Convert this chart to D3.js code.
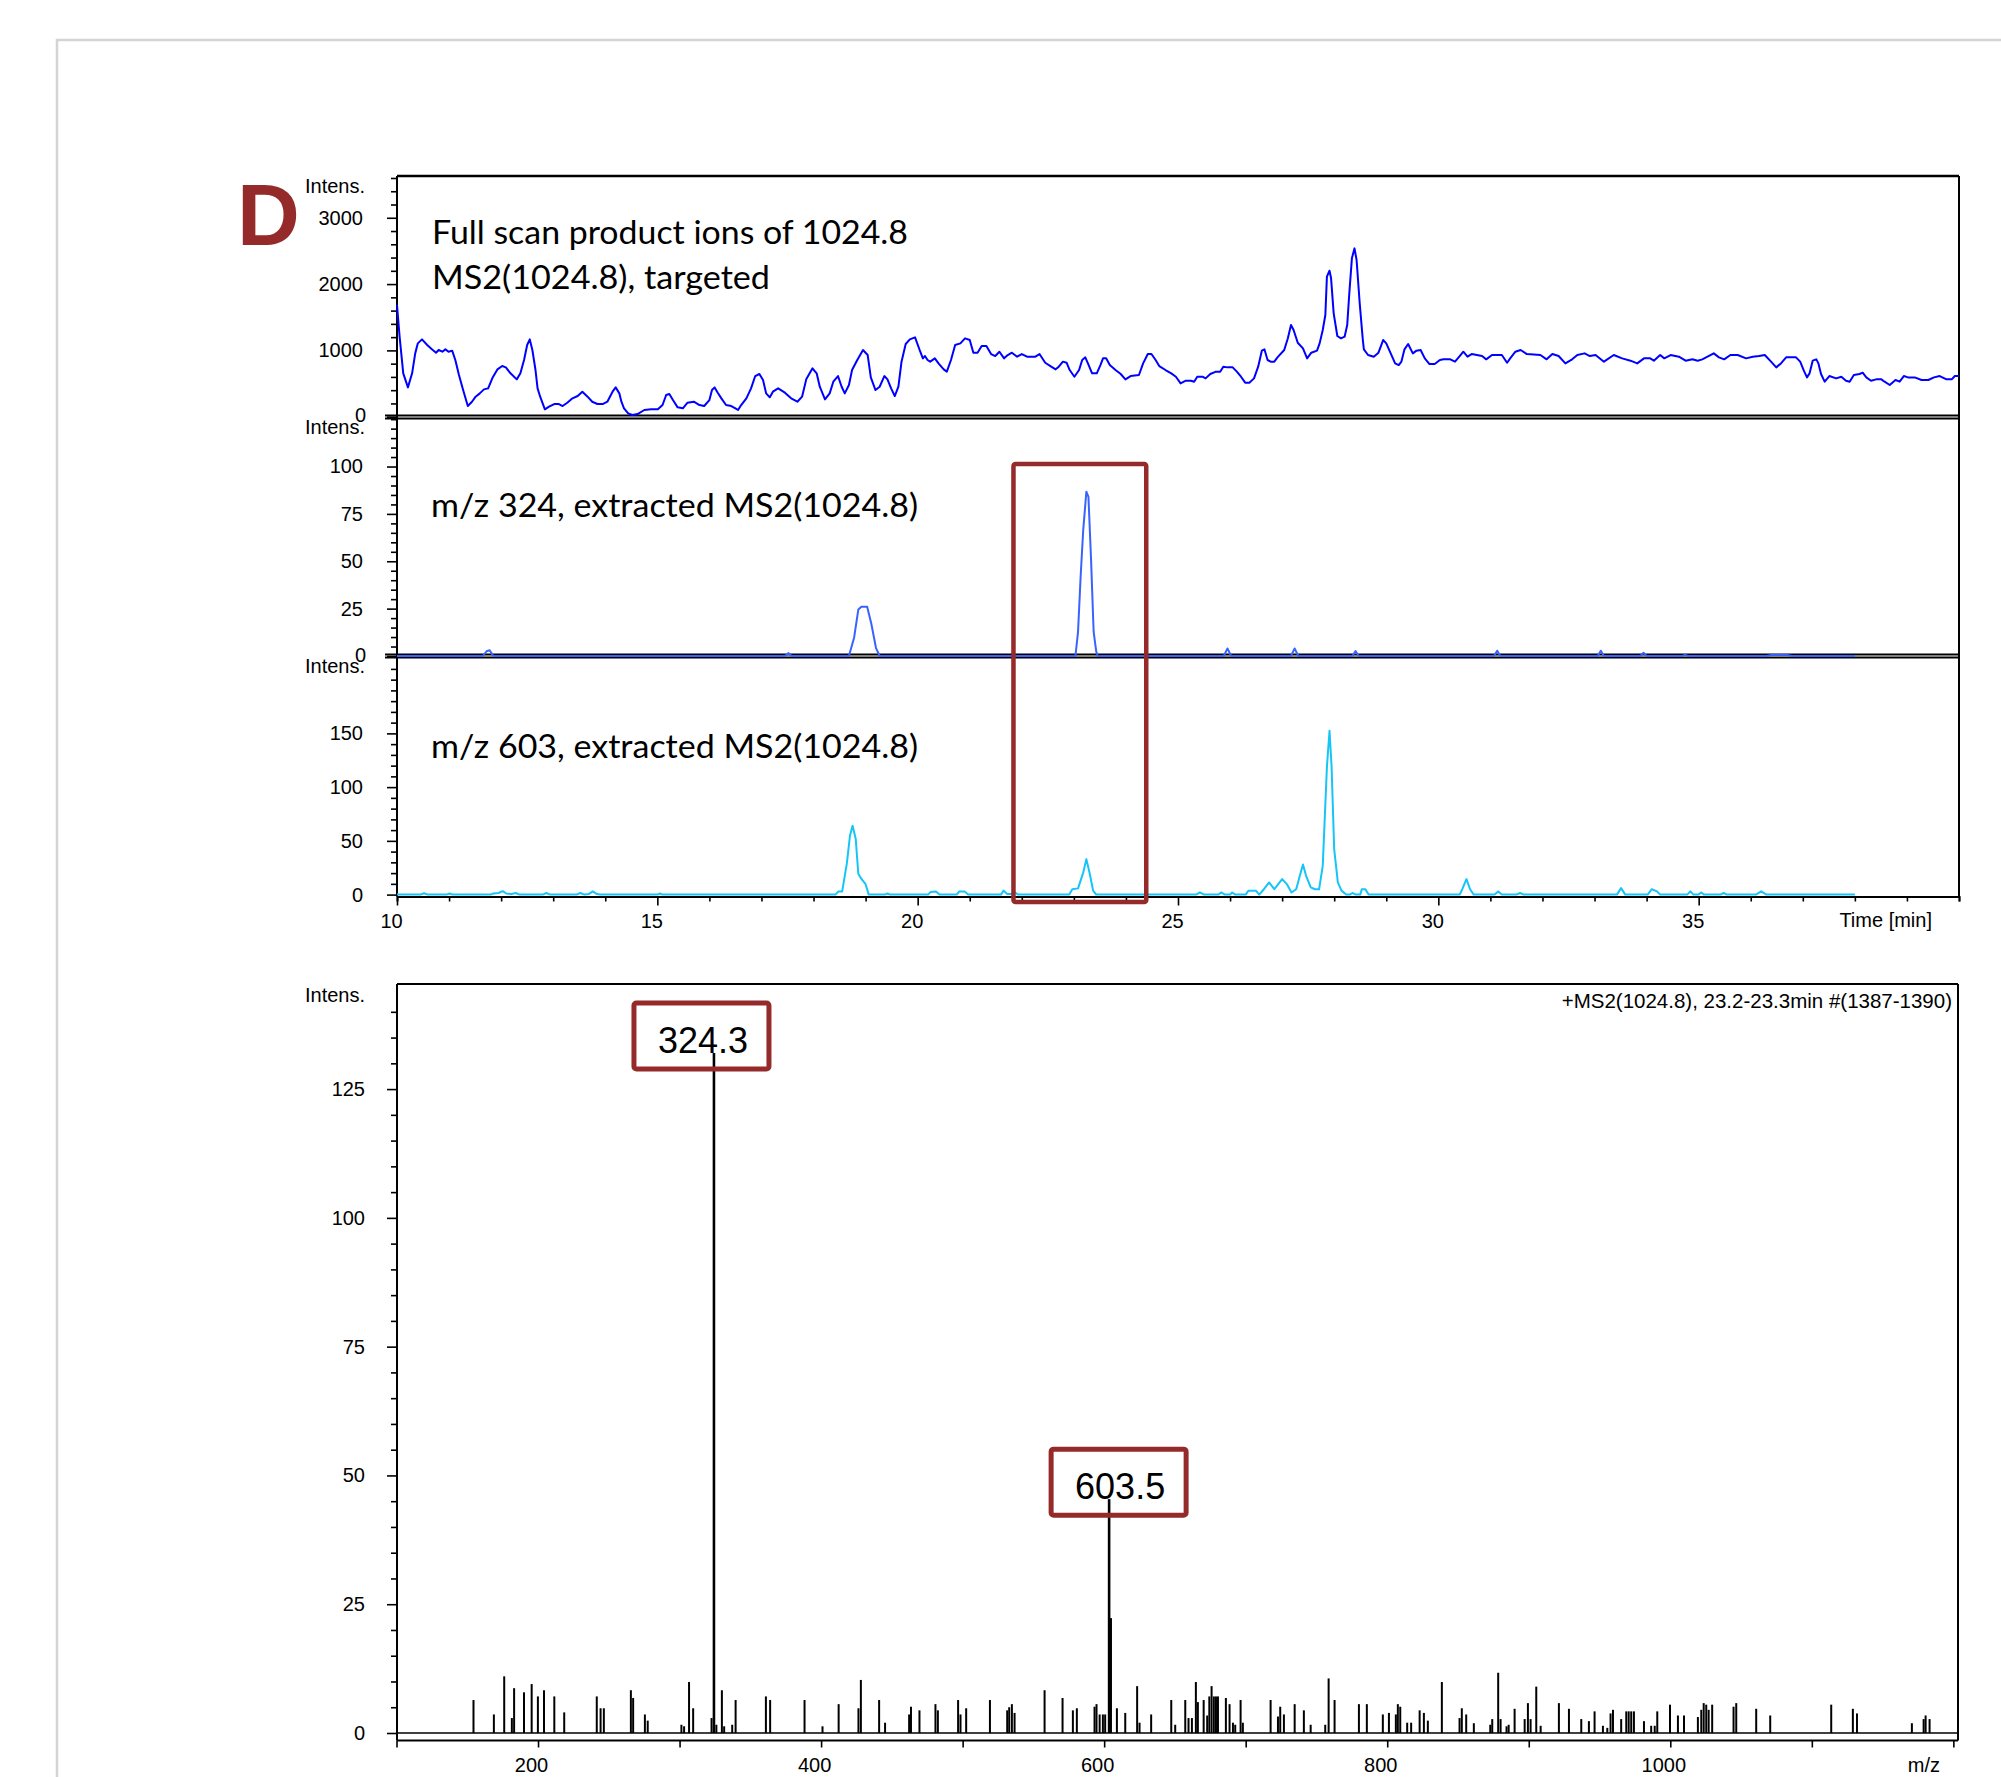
<!DOCTYPE html>
<html><head><meta charset="utf-8">
<script src="https://cdn.jsdelivr.net/npm/d3@7"></script>
<style>body{margin:0;background:#fff}svg{display:block}</style>
</head><body>
<svg id="c" width="2001" height="1777"></svg>
<script>
// ---------------- DATA ----------------
// Panel 1: full scan product ions of 1024.8 (time [min], intensity)
const fullScan = [[10.0,1684],[10.05,1207],[10.12,654],[10.21,442],[10.29,654],[10.35,955],[10.4,1106],[10.48,1166],[10.58,1081],[10.67,1016],[10.75,965],[10.8,1006],[10.87,980],[10.93,1016],[10.99,980],[11.06,996],[11.12,855],[11.19,629],[11.27,402],[11.36,161],[11.44,226],[11.51,302],[11.59,352],[11.67,412],[11.75,427],[11.83,578],[11.93,714],[12.02,764],[12.09,744],[12.18,654],[12.3,563],[12.37,654],[12.44,855],[12.5,1081],[12.55,1166],[12.6,1006],[12.66,704],[12.7,427],[12.75,302],[12.84,111],[12.92,151],[13.02,191],[13.11,191],[13.18,161],[13.27,211],[13.37,277],[13.47,312],[13.56,377],[13.66,302],[13.75,226],[13.85,191],[13.95,191],[14.04,226],[14.14,377],[14.2,442],[14.27,352],[14.31,226],[14.36,126],[14.44,50],[14.52,25],[14.62,40],[14.75,101],[14.88,111],[15.01,111],[15.1,176],[15.17,327],[15.23,342],[15.3,251],[15.39,141],[15.49,126],[15.58,211],[15.7,226],[15.81,176],[15.9,161],[16.0,251],[16.05,402],[16.1,442],[16.16,362],[16.23,277],[16.32,176],[16.42,161],[16.5,126],[16.55,101],[16.61,176],[16.71,277],[16.8,427],[16.88,613],[16.96,644],[17.03,553],[17.09,352],[17.16,292],[17.22,377],[17.32,427],[17.45,362],[17.57,277],[17.69,226],[17.78,302],[17.86,563],[17.98,729],[18.06,654],[18.12,452],[18.22,261],[18.31,352],[18.38,528],[18.47,613],[18.54,452],[18.6,352],[18.68,478],[18.74,704],[18.84,855],[18.95,1006],[19.04,930],[19.1,593],[19.19,402],[19.27,452],[19.36,613],[19.42,563],[19.49,427],[19.56,312],[19.63,452],[19.69,830],[19.77,1096],[19.85,1166],[19.95,1197],[20.05,980],[20.1,880],[20.14,915],[20.19,855],[20.24,830],[20.33,880],[20.4,804],[20.5,714],[20.56,679],[20.64,855],[20.72,1081],[20.82,1106],[20.91,1182],[21.0,1156],[21.07,965],[21.15,965],[21.23,1066],[21.32,1066],[21.41,945],[21.49,915],[21.57,980],[21.66,880],[21.73,930],[21.81,965],[21.91,905],[22.0,945],[22.1,905],[22.26,905],[22.34,945],[22.45,814],[22.55,764],[22.65,714],[22.71,754],[22.79,830],[22.86,814],[22.92,704],[23.01,603],[23.1,704],[23.16,855],[23.22,895],[23.27,804],[23.35,654],[23.44,654],[23.51,779],[23.56,880],[23.62,880],[23.69,779],[23.8,704],[23.9,644],[23.99,563],[24.09,613],[24.25,629],[24.33,804],[24.42,945],[24.49,945],[24.57,855],[24.64,764],[24.76,704],[24.87,654],[24.96,603],[25.05,503],[25.15,543],[25.25,543],[25.31,528],[25.37,603],[25.47,603],[25.53,578],[25.62,644],[25.73,679],[25.81,679],[25.87,754],[25.95,744],[26.05,744],[26.13,679],[26.21,603],[26.29,513],[26.37,513],[26.46,578],[26.54,754],[26.61,996],[26.66,1016],[26.72,855],[26.78,830],[26.85,830],[26.91,895],[27.04,1006],[27.11,1182],[27.17,1383],[27.22,1307],[27.3,1116],[27.4,1031],[27.48,880],[27.56,965],[27.67,996],[27.72,1106],[27.78,1307],[27.83,1534],[27.86,2112],[27.91,2202],[27.94,2087],[27.99,1559],[28.06,1217],[28.13,1182],[28.2,1207],[28.25,1383],[28.29,1860],[28.34,2388],[28.39,2539],[28.43,2363],[28.49,1710],[28.55,1156],[28.57,1016],[28.65,930],[28.76,905],[28.85,965],[28.94,1156],[29.0,1106],[29.1,930],[29.17,804],[29.24,779],[29.29,830],[29.35,1016],[29.42,1096],[29.51,955],[29.58,996],[29.66,1006],[29.74,880],[29.83,794],[29.93,794],[30.03,855],[30.1,865],[30.23,865],[30.32,830],[30.41,915],[30.48,980],[30.56,905],[30.64,945],[30.74,930],[30.84,915],[30.92,865],[31.03,930],[31.22,930],[31.32,814],[31.38,880],[31.48,980],[31.58,1006],[31.7,945],[31.96,930],[32.08,865],[32.19,945],[32.31,915],[32.44,804],[32.57,865],[32.67,930],[32.81,955],[32.91,915],[33.02,930],[33.18,830],[33.37,930],[33.53,880],[33.69,845],[33.82,804],[33.95,880],[34.07,880],[34.14,845],[34.26,930],[34.34,880],[34.46,930],[34.62,905],[34.75,845],[34.88,865],[34.98,845],[35.07,865],[35.17,905],[35.29,955],[35.39,895],[35.49,865],[35.61,930],[35.75,930],[35.91,880],[36.04,905],[36.16,915],[36.27,930],[36.39,830],[36.49,744],[36.58,804],[36.68,895],[36.87,895],[36.95,830],[37.02,694],[37.08,593],[37.13,654],[37.19,845],[37.26,865],[37.3,804],[37.35,644],[37.42,528],[37.51,613],[37.64,578],[37.74,603],[37.83,543],[37.9,528],[37.98,628],[38.09,644],[38.15,664],[38.22,593],[38.31,543],[38.41,563],[38.51,563],[38.57,528],[38.67,478],[38.78,553],[38.86,528],[38.94,613],[39.02,593],[39.15,593],[39.28,553],[39.41,553],[39.52,593],[39.63,613],[39.76,563],[39.86,563],[39.92,613],[40.0,613]];

// Panel 2: m/z 324 extracted ion chromatogram
const eic324 = [[10,0],[11.65,0],[11.72,2.5],[11.78,3],[11.85,0],[17.45,0],[17.52,1.5],[17.58,0],[18.68,0],[18.78,9.8],[18.86,24.5],[18.92,26],[19.03,26],[19.11,17],[19.2,4.2],[19.27,0],[23.03,0],[23.08,12.7],[23.13,42],[23.18,66.6],[23.24,86.7],[23.28,84],[23.33,51],[23.38,12.7],[23.43,2.3],[23.46,0],[25.88,0],[25.95,4],[26.02,0],[27.17,0],[27.24,4],[27.31,0],[28.35,0],[28.41,2.6],[28.47,0],[31.07,0],[31.13,2.8],[31.19,0],[33.06,0],[33.12,2.8],[33.18,0],[33.88,0],[33.94,1.7],[34.0,0],[34.68,0],[34.74,0.6],[34.8,0],[36.3,0],[36.4,0.5],[36.7,0.5],[36.8,0],[38.0,0]];

// Panel 3: m/z 603 extracted ion chromatogram
const eic603 = [[10,0],[10.45,0],[10.52,1.2],[10.59,0],[10.95,0],[11.01,1],[11.07,0],[11.8,0],[11.85,1],[11.95,1.5],[12.03,3.2],[12.1,1],[12.2,0.5],[12.28,1.5],[12.35,0],[12.8,0],[12.87,1.5],[12.94,0],[13.45,0],[13.52,1.5],[13.6,0],[13.68,0.5],[13.76,3],[13.84,0.5],[13.9,0],[15.0,0],[15.05,1],[15.1,0],[18.42,0],[18.48,3],[18.55,3],[18.64,29],[18.7,55],[18.75,64],[18.81,52],[18.86,19.5],[18.92,14.6],[19.0,9.7],[19.06,0],[19.37,0],[19.42,1],[19.47,0],[20.2,0],[20.25,2.5],[20.35,2.8],[20.42,0],[20.75,0],[20.8,3],[20.9,3],[20.97,0],[21.6,0],[21.65,3.7],[21.72,0.5],[21.8,0.5],[21.87,2],[21.93,0],[22.91,0],[22.97,5],[23.08,5.8],[23.18,20.5],[23.24,33],[23.3,20.5],[23.37,3.7],[23.43,0],[25.35,0],[25.42,2],[25.5,0],[25.78,0],[25.83,2],[25.9,0],[26.0,0],[26.04,2],[26.1,0],[26.3,0],[26.35,3.5],[26.5,3.5],[26.56,0],[26.65,5],[26.75,11.3],[26.85,5],[27.0,14.4],[27.09,9.8],[27.18,2],[27.27,5],[27.34,17.5],[27.4,28],[27.46,17.5],[27.55,6.7],[27.63,5],[27.71,5],[27.78,26.7],[27.86,118.7],[27.91,152.5],[27.95,118.7],[28.0,42],[28.07,11.3],[28.14,3.7],[28.23,0],[28.3,0],[28.35,1.5],[28.42,0],[28.5,0],[28.53,5],[28.6,5],[28.66,0],[30.41,0],[30.46,5],[30.54,14.4],[30.61,5],[30.68,0],[31.08,0],[31.15,3],[31.22,0],[31.5,0],[31.57,1.5],[31.64,0],[33.43,0],[33.51,6],[33.59,0],[34.02,0],[34.1,5],[34.2,3],[34.26,0],[34.78,0],[34.84,3],[34.9,0],[35.0,0],[35.05,2],[35.1,0],[35.42,0],[35.48,1.5],[35.54,0],[36.1,0],[36.2,3],[36.3,0],[38.0,0]];

// MS2 spectrum (m/z, intensity)
const spectrum = [[154.4,6.4],[168.8,3.6],[176.1,11.0],[181.5,2.9],[183.1,8.7],[190.1,7.9],[195.5,9.5],[199.9,7.1],[204.2,8.3],[211.5,7.1],[218.5,4.0],[241.5,7.1],[244.2,4.8],[246.5,4.8],[265.6,8.3],[267.2,6.8],[275.5,3.6],[277.5,2.4],[301.3,1.6],[303.2,1.3],[306.7,9.9],[309.6,4.8],[322.6,2.9],[324.3,132],[326.0,1.6],[329.9,8.3],[331.5,1.3],[337.2,1.6],[339.6,6.4],[361.0,7.1],[364.0,6.4],[388.3,6.4],[401.0,1.3],[412.4,5.6],[426.4,4.8],[428.1,10.3],[441.0,6.4],[445.2,2.0],[462.2,3.6],[463.5,5.1],[469.5,4.4],[480.8,5.6],[482.5,4.4],[496.8,6.4],[498.5,3.6],[502.5,4.8],[519.3,6.4],[531.5,4.4],[532.9,5.0],[534.8,5.6],[536.7,3.9],[557.9,8.3],[570.6,6.8],[577.9,4.4],[580.7,4.8],[593.2,5.1],[594.6,5.6],[596.8,3.6],[599.1,3.6],[600.7,3.6],[603.5,45.4],[604.6,22.3],[609.0,4.8],[614.9,3.9],[623.3,9.1],[625.0,2.0],[633.2,3.6],[647.4,6.4],[650.2,1.6],[657.3,6.4],[659.6,2.9],[662.0,2.9],[664.8,9.9],[666.2,6.0],[670.3,6.4],[672.8,3.4],[674.3,7.1],[675.9,9.1],[677.5,7.1],[679.0,7.1],[680.4,7.1],[686.0,6.8],[688.6,5.6],[691.0,2.0],[692.6,1.6],[696.4,6.4],[698.0,2.0],[717.6,6.4],[722.8,3.2],[724.4,5.1],[727.0,3.6],[734.6,5.6],[741.1,4.4],[745.9,1.6],[756.2,1.6],[758.6,10.6],[762.8,6.4],[780.0,5.6],[785.6,5.6],[796.9,3.6],[801.2,3.9],[806.1,3.6],[807.5,5.6],[809.2,5.1],[814.1,2.0],[816.9,2.0],[822.9,4.4],[825.9,3.9],[828.7,2.4],[838.6,9.9],[851.1,2.9],[852.7,4.8],[855.8,3.6],[861.2,1.9],[872.8,1.6],[874.2,2.7],[878.4,11.7],[880.1,2.7],[884.3,1.3],[885.8,1.6],[890.0,4.7],[897.1,2.7],[899.4,5.8],[901.3,2.7],[905.3,9.0],[908.4,1.4],[921.3,5.8],[928.4,4.7],[937.1,2.7],[942.5,2.3],[946.5,4.2],[952.4,1.4],[955.5,1.0],[957.8,3.8],[959.5,4.5],[965.3,2.7],[968.9,4.2],[970.6,4.2],[972.4,4.2],[974.3,4.2],[981.4,2.3],[986.5,1.4],[989.0,1.4],[990.8,4.2],[999.8,5.5],[1005.4,3.4],[1009.7,3.4],[1019.5,3.1],[1021.9,4.5],[1023.6,5.8],[1025.4,5.5],[1027.1,4.5],[1029.6,5.5],[1044.7,5.1],[1046.6,5.8],[1060.7,4.7],[1070.6,3.4],[1113.7,5.5],[1129.0,4.7],[1131.9,3.8],[1170.7,1.9],[1179.0,2.7],[1180.4,3.4],[1183.2,2.7]];

const labeledPeaks = ["324.3", "603.5"];
const highlightWindow = [21.84, 24.39];   // minutes
const panelTitles = [["Full scan product ions of 1024.8", "MS2(1024.8), targeted"], ["m/z 324, extracted MS2(1024.8)"], ["m/z 603, extracted MS2(1024.8)"]];
const panelMajorTicks = [[0,1000,2000,3000],[0,25,50,75,100],[0,50,100,150]];
const panelMinorStep = [200, 5, 10];
const panelMinorMax = [3600, 125, 210];
const timeMajorTicks = [10,15,20,25,30,35];
const specYMajorTicks = [0,25,50,75,100,125];
const specXLabelTicks = [200,400,600,800,1000];
const spectrumHeader = "+MS2(1024.8), 23.2-23.3min #(1387-1390)";

// ---------------- DRAWING ----------------
const svg = d3.select('#c');
const ARIAL = '"Liberation Sans", Arial, sans-serif';
const CAL = 'Lato, "Open Sans", sans-serif';
const RED = '#952a2a';

svg.append('path').attr('d','M57,1777V40H2001').attr('fill','none').attr('stroke','#d4d4d4').attr('stroke-width',2.5);

svg.append('text').attr('x',237).attr('y',245).text('D')
  .attr('font-family',ARIAL).attr('font-weight','bold').attr('font-size',87).attr('fill',RED);

const L = 397, R = 1959;
const x = d3.scaleLinear().domain([10,40]).range([L,R]);
const panelGeom = [
  {top:176, y0:416.7, max:3630, data:fullScan, color:'#0000ff'},
  {top:416.7, y0:656, max:126.3, data:eic324, color:'#3a62ff'},
  {top:656, y0:894.6, max:222, data:eic603, color:'#16c5f7'}
];
const titleGeom = [[{x:432,y:244,w:476},{x:432,y:289,w:338}],[{x:431,y:517,w:487}],[{x:431,y:758,w:487}]];

function styleAxis(g){
  g.selectAll('path.domain').attr('stroke','#000').attr('stroke-width',2);
  g.selectAll('.tick line').attr('stroke','#000').attr('stroke-width',1.6);
  g.selectAll('.tick text').attr('font-family',ARIAL).attr('font-size',20).attr('fill','#000');
}

panelGeom.forEach((p,i)=>{
  const y = d3.scaleLinear().domain([0,p.max]).range([p.y0,p.top]);
  p.y = y;
  const minors = d3.range(0, panelMinorMax[i]+1e-9, panelMinorStep[i]).filter(v=>!panelMajorTicks[i].includes(v));
  const gMin = svg.append('g').attr('transform',`translate(${L},0)`)
    .call(d3.axisLeft(y).tickValues(minors).tickSize(6).tickFormat(''));
  gMin.select('path.domain').remove();
  styleAxis(gMin);
  const gMaj = svg.append('g').attr('transform',`translate(${L},0)`)
    .call(d3.axisLeft(y).tickValues(panelMajorTicks[i]).tickSize(10).tickPadding(24).tickFormat(d3.format('d')));
  gMaj.select('path.domain').remove();
  styleAxis(gMaj);
  if (i < 2) gMaj.selectAll('.tick').filter(d=>d===0).select('text').attr('dy','0.25em').attr('dx',3);
  svg.append('text').attr('x',365).attr('y',p.top+17).attr('text-anchor','end')
    .attr('font-family',ARIAL).attr('font-size',20).text('Intens.');
});

const frame = svg.append('g').attr('stroke','#000').attr('fill','none');
frame.append('line').attr('x1',L).attr('x2',R).attr('y1',176).attr('y2',176).attr('stroke-width',2.5);
frame.append('line').attr('x1',R).attr('x2',R).attr('y1',176).attr('y2',896.5).attr('stroke-width',2);
frame.append('line').attr('x1',L).attr('x2',L).attr('y1',176).attr('y2',896.5).attr('stroke-width',2);
[415.4,418.4,654.6,657.6].forEach(yy=>frame.append('line').attr('x1',L-12).attr('x2',R).attr('y1',yy).attr('y2',yy).attr('stroke-width',2));

// time axis
const tAxisY = 896.5;
const tMinors = d3.range(10,40.001,1).filter(v=>!timeMajorTicks.includes(v));
const gtMin = svg.append('g').attr('transform',`translate(0,${tAxisY})`)
  .call(d3.axisBottom(x).tickValues(tMinors).tickSize(5).tickFormat(''));
styleAxis(gtMin);
const gtMaj = svg.append('g').attr('transform',`translate(0,${tAxisY})`)
  .call(d3.axisBottom(x).tickValues(timeMajorTicks).tickSize(9).tickPadding(8.5).tickFormat(d3.format('d')));
gtMaj.select('path.domain').remove();
styleAxis(gtMaj);
gtMaj.selectAll('.tick text').attr('dx',-6);
svg.append('text').attr('x',1932).attr('y',927).attr('text-anchor','end')
  .attr('font-family',ARIAL).attr('font-size',20).text('Time [min]');

// traces
panelGeom.forEach((p,i)=>{
  const line = d3.line().x(d=>x(d[0])).y(d=>p.y(d[1]));
  svg.append('path').datum(p.data).attr('d',line).attr('fill','none')
    .attr('stroke',p.color).attr('stroke-width',2).attr('stroke-linejoin','round');
});

panelTitles.forEach((lines,i)=>{
  lines.forEach((t,j)=>{
    const g = titleGeom[i][j];
    svg.append('text').attr('x',g.x).attr('y',g.y).text(t)
      .attr('font-family',CAL).attr('font-size',32).attr('fill','#000')
      .attr('textLength',g.w).attr('lengthAdjust','spacingAndGlyphs');
  });
});

svg.append('rect').attr('x',x(highlightWindow[0])).attr('y',464)
  .attr('width',x(highlightWindow[1])-x(highlightWindow[0])).attr('height',902-464)
  .attr('fill','none').attr('stroke',RED).attr('stroke-width',4.5).attr('rx',2);

// ---------------- SPECTRUM ----------------
const SL = 397, SR = 1958, STop = 984, SAxis = 1740.5;
const xs = d3.scaleLinear().domain([100,1203]).range([396.5,1957.6]);
const ys = d3.scaleLinear().domain([0,145.4]).range([1733,STop]);

const sMinor = d3.range(0,140.001,5).filter(v=>!specYMajorTicks.includes(v));
const gsMin = svg.append('g').attr('transform',`translate(${SL},0)`)
  .call(d3.axisLeft(ys).tickValues(sMinor).tickSize(6).tickFormat(''));
gsMin.select('path.domain').remove(); styleAxis(gsMin);
const gsMaj = svg.append('g').attr('transform',`translate(${SL},0)`)
  .call(d3.axisLeft(ys).tickValues(specYMajorTicks).tickSize(10).tickPadding(22).tickFormat(d3.format('d')));
gsMaj.select('path.domain').remove(); styleAxis(gsMaj);
svg.append('text').attr('x',365).attr('y',1002).attr('text-anchor','end')
  .attr('font-family',ARIAL).attr('font-size',20).text('Intens.');

const gsx = svg.append('g').attr('transform',`translate(0,${SAxis})`)
  .call(d3.axisBottom(xs).tickValues(d3.range(100,1200.001,100)).tickSize(7).tickPadding(10)
    .tickFormat(d=>specXLabelTicks.includes(d)?d3.format('d')(d):''));
gsx.select('path.domain').remove(); styleAxis(gsx);
gsx.selectAll('.tick text').attr('dx',-7);
svg.append('text').attr('x',1940).attr('y',1772).attr('text-anchor','end')
  .attr('font-family',ARIAL).attr('font-size',20).text('m/z');

const sf = svg.append('g').attr('stroke','#000').attr('fill','none');
sf.append('line').attr('x1',SL).attr('x2',SR).attr('y1',STop).attr('y2',STop).attr('stroke-width',2);
sf.append('line').attr('x1',SR).attr('x2',SR).attr('y1',STop).attr('y2',SAxis).attr('stroke-width',2);
sf.append('line').attr('x1',SL).attr('x2',SL).attr('y1',STop).attr('y2',SAxis).attr('stroke-width',2);
sf.append('line').attr('x1',SL).attr('x2',SR).attr('y1',SAxis).attr('y2',SAxis).attr('stroke-width',2);
sf.append('line').attr('x1',SL).attr('x2',SR).attr('y1',ys(0)).attr('y2',ys(0)).attr('stroke-width',1.6);

svg.append('g').selectAll('line').data(spectrum).join('line')
  .attr('x1',d=>xs(d[0])).attr('x2',d=>xs(d[0]))
  .attr('y1',ys(0)).attr('y2',d=>ys(d[1]))
  .attr('stroke','#000').attr('stroke-width',d=>d[1]>20?2.6:2);

svg.append('text').attr('x',1952).attr('y',1008).attr('text-anchor','end')
  .attr('font-family',ARIAL).attr('font-size',20.5).text(spectrumHeader);

const boxOffset = {"324.3":-80, "603.5":-58};
labeledPeaks.forEach(lbl=>{
  const pk = spectrum.find(d=>d[0]===+lbl);
  const px = xs(pk[0]), py = ys(pk[1]);
  const bx = px + boxOffset[lbl], by = py - 50;
  svg.append('rect').attr('x',bx).attr('y',by).attr('width',135).attr('height',66)
    .attr('fill','none').attr('stroke',RED).attr('stroke-width',5).attr('rx',2.5);
  svg.append('text').attr('x',bx+69).attr('y',by+50).attr('text-anchor','middle')
    .attr('font-family',ARIAL).attr('font-size',36).text(lbl);
});
</script>
</body></html>
